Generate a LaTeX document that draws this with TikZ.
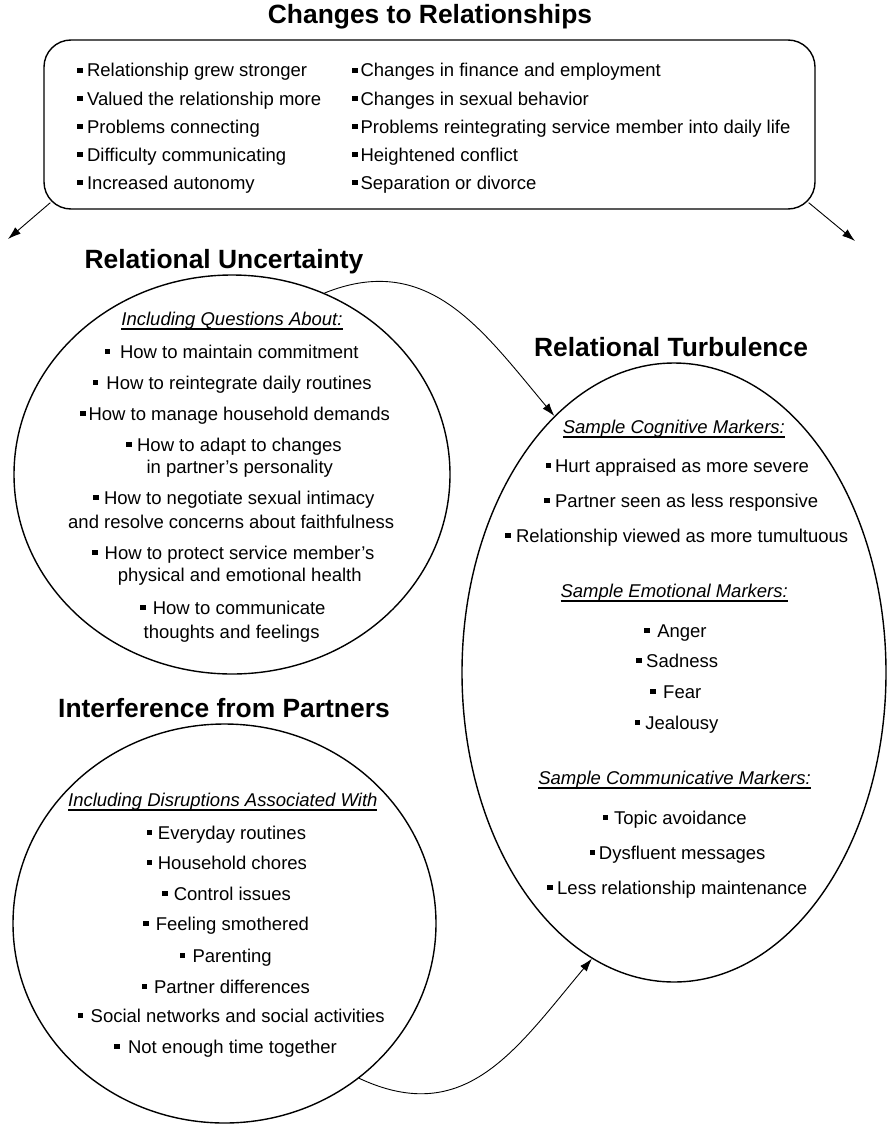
\documentclass[tikz,border=0pt]{standalone}
\usepackage{fontspec}
\setmainfont{Liberation Sans}
\usetikzlibrary{arrows.meta,shapes.geometric,positioning,calc}

\newcommand{\sq}[1][6pt]{\rule[4pt]{5.4pt}{5.4pt}\hspace{#1}}
\newcommand{\hdr}[1]{\setbox0=\hbox{\itshape #1}\rlap{\rule[-4.6pt]{\wd0}{1.3pt}}\box0}

\tikzset{
  oval/.style = {draw, ellipse, line width=1.4pt, inner sep=0pt},
  heading/.style = {anchor=base, inner sep=0pt, font=\fontsize{26.4}{30}\selectfont\bfseries},
  boxitem/.style = {anchor=base west, inner sep=0pt},
  ovalitem/.style = {anchor=base, inner sep=0pt},
  link/.style = {line width=0.9pt, -{Latex[length=13pt,width=8.5pt]}}
}

\begin{document}
\begin{tikzpicture}[x=1pt,y=1pt,font=\fontsize{18.5}{22}\selectfont]
 \useasboundingbox (0,0) rectangle (889,-1124);

 % changes box
 \node[heading] (chtitle) at (430,-24) {Changes to Relationships};
 \node[draw, line width=1.4pt, rounded corners=27pt, minimum width=771pt, minimum height=169pt, inner sep=0pt] (changes) at (429.5,-124.5) {};

 \node[boxitem] (c1) at (77,-77) {\sq[4.5pt]Relationship grew stronger};
 \node[boxitem] (c2) at (77,-105) {\sq[4.5pt]Valued the relationship more};
 \node[boxitem] (c3) at (77,-133) {\sq[4.5pt]Problems connecting};
 \node[boxitem] (c4) at (77,-161) {\sq[4.5pt]Difficulty communicating};
 \node[boxitem] (c5) at (77,-189) {\sq[4.5pt]Increased autonomy};
 \node[boxitem] (d1) at (352,-77) {\sq[3pt]Changes in finance and employment};
 \node[boxitem] (d2) at (352,-105) {\sq[3pt]Changes in sexual behavior};
 \node[boxitem] (d3) at (352,-133) {\sq[3pt]Problems reintegrating service member into daily life};
 \node[boxitem] (d4) at (352,-161) {\sq[3pt]Heightened conflict};
 \node[boxitem] (d5) at (352,-189) {\sq[3pt]Separation or divorce};

 \coordinate (leftend) at (8,-239);
 \coordinate (rightend) at (855,-241);
 \draw[link] ([shift={(7,7)}]changes.south west) -- (leftend);
 \draw[link] ([shift={(-7,7)}]changes.south east) -- (rightend);

 % relational uncertainty
 \node[heading] (unctitle) at (224,-268) {Relational Uncertainty};
 \node[oval, minimum width=436pt, minimum height=399pt] (unc) at (232,-474.5) {};
 \node[ovalitem] (u0) at (232,-325) {\hdr{Including Questions About:}};
 \node[ovalitem] (u1) at (231.6,-358) {\sq[10pt]How to maintain commitment};
 \node[ovalitem] (u2) at (232.4,-389) {\sq[8pt]How to reintegrate daily routines};
 \node[ovalitem] (u3) at (235,-420) {\sq[3pt]How to manage household demands};
 \node[ovalitem] (u4) at (234,-451) {\sq[5.5pt]How to adapt to changes};
 \node[ovalitem] (u4b) at (239.8,-473) {in partner’s personality};
 \node[ovalitem] (u5) at (233.8,-504) {\sq[5.5pt]How to negotiate sexual intimacy};
 \node[ovalitem] (u5b) at (231.2,-528) {and resolve concerns about faithfulness};
 \node[ovalitem] (u6) at (233.3,-559) {\sq[7pt]How to protect service member’s};
 \node[ovalitem] (u6b) at (239.8,-581) {physical and emotional health};
 \node[ovalitem] (u7) at (233,-614) {\sq[7pt]How to communicate};
 \node[ovalitem] (u7b) at (231.6,-638) {thoughts and feelings};

 % interference from partners
 \node[heading] (inttitle) at (224,-717) {Interference from Partners};
 \node[oval, minimum width=423pt, minimum height=399pt] (inter) at (224.5,-923.5) {};
 \node[ovalitem] (i0) at (222.8,-806) {\hdr{Including Disruptions Associated With}};
 \node[ovalitem] (i1) at (226.3,-839) {\sq[6pt]Everyday routines};
 \node[ovalitem] (i2) at (227,-869) {\sq[5.5pt]Household chores};
 \node[ovalitem] (i3) at (226.7,-900) {\sq[6pt]Control issues};
 \node[ovalitem] (i4) at (226.2,-930) {\sq[7pt]Feeling smothered};
 \node[ovalitem] (i5) at (225.7,-962) {\sq[7.5pt]Parenting};
 \node[ovalitem] (i6) at (225.8,-993) {\sq[7pt]Partner differences};
 \node[ovalitem] (i7) at (231.3,-1022) {\sq[7.5pt]Social networks and social activities};
 \node[ovalitem] (i8) at (225.5,-1053) {\sq[8.5pt]Not enough time together};

 % relational turbulence
 \node[heading] (turbtitle) at (671,-356) {Relational Turbulence};
 \node[oval, minimum width=424pt, minimum height=619pt] (turb) at (674,-672.5) {};
 \node[ovalitem] (t0) at (673.8,-433) {\hdr{Sample Cognitive Markers:}};
 \node[ovalitem] (t1) at (677.3,-472) {\sq[4pt]Hurt appraised as more severe};
 \node[ovalitem] (t2) at (681.2,-507) {\sq[5.5pt]Partner seen as less responsive};
 \node[ovalitem] (t3) at (676.7,-542) {\sq[5.5pt]Relationship viewed as more tumultuous};
 \node[ovalitem] (e0) at (674.2,-597) {\hdr{Sample Emotional Markers:}};
 \node[ovalitem] (e1) at (675.5,-637) {\sq[7.5pt]Anger};
 \node[ovalitem] (e2) at (677.2,-667) {\sq[4.5pt]Sadness};
 \node[ovalitem] (e3) at (675.8,-698) {\sq[7.5pt]Fear};
 \node[ovalitem] (e4) at (676.7,-729) {\sq[5pt]Jealousy};
 \node[ovalitem] (m0) at (674.5,-784) {\hdr{Sample Communicative Markers:}};
 \node[ovalitem] (m1) at (674.7,-824) {\sq[6pt]Topic avoidance};
 \node[ovalitem] (m2) at (677.5,-859) {\sq[4pt]Dysfluent messages};
 \node[ovalitem] (m3) at (677.2,-894) {\sq[4.5pt]Less relationship maintenance};

 % curved links
 \draw[link] (unc.63) to[out=22,in=130,looseness=1.1] (turb.115);
 \draw[link] (inter.-49) to[out=-25,in=-130,looseness=1.15] (turb.254);
\end{tikzpicture}
\end{document}
